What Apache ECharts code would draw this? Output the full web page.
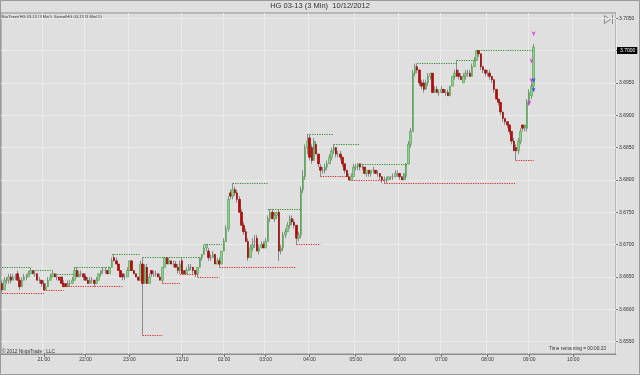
<!DOCTYPE html>
<html><head><meta charset="utf-8">
<script src="https://cdn.jsdelivr.net/npm/echarts@6/dist/echarts.min.js"></script>
<style>html,body{margin:0;padding:0;background:#dfdfdf}#c{width:640px;height:375px}</style>
</head><body><div id="c"></div>
<script>
// ---- data ----
const barSlots = 280;
const timeTickIndex = [19, 38, 58, 82, 101, 120, 140, 161, 181, 200, 221, 240, 260];
const timeTickLabels = ['21:00','22:00','23:00','12/10','02:00','03:00','04:00','05:00','06:00','07:00','08:00','09:00','10:00'];
const plotMin = 3.6531, plotMax = 3.7058;
const labelAxisMin = 3.65, labelStep = 0.005;
// [open, close, low, high]
const bars = [
[3.6640,3.6630,3.6625,3.6645],[3.6630,3.6645,3.6630,3.6650],[3.6645,3.6645,3.6640,3.6650],[3.6645,3.6650,3.6640,3.6655],[3.6650,3.6645,3.6640,3.6655],
[3.6645,3.6650,3.6645,3.6655],[3.6650,3.6650,3.6645,3.6655],[3.6655,3.6645,3.6645,3.6660],[3.6645,3.6635,3.6630,3.6650],[3.6635,3.6645,3.6635,3.6650],
[3.6645,3.6650,3.6645,3.6655],[3.6650,3.6650,3.6645,3.6655],[3.6650,3.6655,3.6650,3.6660],[3.6655,3.6660,3.6655,3.6665],[3.6660,3.6655,3.6655,3.6660],
[3.6655,3.6655,3.6650,3.6660],[3.6655,3.6645,3.6645,3.6655],[3.6645,3.6645,3.6640,3.6650],[3.6645,3.6640,3.6635,3.6645],[3.6640,3.6630,3.6630,3.6645],
[3.6630,3.6635,3.6630,3.6640],[3.6635,3.6645,3.6635,3.6650],[3.6645,3.6650,3.6645,3.6655],[3.6650,3.6655,3.6650,3.6660],[3.6655,3.6650,3.6650,3.6655],
[3.6650,3.6650,3.6645,3.6655],[3.6650,3.6645,3.6645,3.6650],[3.6650,3.6640,3.6640,3.6650],[3.6640,3.6635,3.6635,3.6645],[3.6640,3.6635,3.6635,3.6640],
[3.6635,3.6640,3.6635,3.6645],[3.6640,3.6640,3.6635,3.6645],[3.6640,3.6645,3.6640,3.6650],[3.6645,3.6660,3.6645,3.6665],[3.6660,3.6650,3.6650,3.6665],
[3.6650,3.6655,3.6650,3.6660],[3.6655,3.6655,3.6650,3.6660],[3.6655,3.6650,3.6645,3.6655],[3.6650,3.6645,3.6645,3.6655],[3.6645,3.6640,3.6640,3.6650],
[3.6640,3.6645,3.6640,3.6650],[3.6645,3.6645,3.6640,3.6650],[3.6645,3.6640,3.6635,3.6645],[3.6640,3.6645,3.6640,3.6650],[3.6645,3.6655,3.6645,3.6655],
[3.6655,3.6660,3.6650,3.6660],[3.6660,3.6660,3.6655,3.6665],[3.6660,3.6660,3.6655,3.6665],[3.6660,3.6655,3.6655,3.6660],[3.6655,3.6665,3.6655,3.6665],
[3.6665,3.6675,3.6665,3.6680],[3.6680,3.6675,3.6675,3.6685],[3.6675,3.6670,3.6670,3.6680],[3.6670,3.6660,3.6660,3.6670],[3.6660,3.6650,3.6650,3.6660],
[3.6655,3.6650,3.6645,3.6655],[3.6650,3.6650,3.6645,3.6655],[3.6650,3.6660,3.6650,3.6665],[3.6660,3.6675,3.6660,3.6675],[3.6675,3.6660,3.6660,3.6675],
[3.6660,3.6655,3.6655,3.6660],[3.6655,3.6650,3.6650,3.6655],[3.6650,3.6645,3.6645,3.6650],[3.6645,3.6670,3.6645,3.6675],[3.6670,3.6640,3.6560,3.6680],
[3.6640,3.6665,3.6640,3.6670],[3.6665,3.6640,3.6640,3.6670],[3.6640,3.6650,3.6640,3.6655],[3.6660,3.6655,3.6650,3.6660],[3.6655,3.6655,3.6650,3.6660],
[3.6655,3.6655,3.6650,3.6660],[3.6655,3.6650,3.6650,3.6655],[3.6650,3.6645,3.6645,3.6655],[3.6645,3.6665,3.6640,3.6665],[3.6665,3.6680,3.6665,3.6680],
[3.6680,3.6670,3.6670,3.6680],[3.6670,3.6675,3.6670,3.6680],[3.6675,3.6670,3.6670,3.6675],[3.6670,3.6670,3.6665,3.6675],[3.6670,3.6665,3.6665,3.6675],
[3.6665,3.6660,3.6655,3.6670],[3.6660,3.6670,3.6655,3.6675],[3.6675,3.6655,3.6655,3.6680],[3.6660,3.6655,3.6655,3.6660],[3.6655,3.6660,3.6655,3.6665],
[3.6660,3.6665,3.6660,3.6670],[3.6665,3.6665,3.6660,3.6670],[3.6665,3.6660,3.6655,3.6665],[3.6660,3.6655,3.6650,3.6660],[3.6655,3.6665,3.6650,3.6665],
[3.6665,3.6680,3.6665,3.6680],[3.6680,3.6685,3.6675,3.6685],[3.6685,3.6695,3.6685,3.6700],[3.6695,3.6700,3.6690,3.6700],[3.6690,3.6680,3.6675,3.6695],
[3.6680,3.6680,3.6675,3.6685],[3.6680,3.6685,3.6680,3.6690],[3.6685,3.6670,3.6670,3.6685],[3.6670,3.6675,3.6670,3.6680],[3.6675,3.6670,3.6665,3.6680],
[3.6670,3.6690,3.6670,3.6690],[3.6690,3.6705,3.6690,3.6710],[3.6705,3.6725,3.6705,3.6730],[3.6725,3.6770,3.6720,3.6775],[3.6780,3.6775,3.6770,3.6785],
[3.6775,3.6785,3.6770,3.6795],[3.6785,3.6780,3.6775,3.6790],[3.6780,3.6770,3.6765,3.6785],[3.6770,3.6750,3.6750,3.6775],[3.6750,3.6730,3.6730,3.6755],
[3.6730,3.6720,3.6715,3.6735],[3.6720,3.6705,3.6705,3.6725],[3.6705,3.6680,3.6675,3.6710],[3.6680,3.6695,3.6680,3.6700],[3.6695,3.6700,3.6690,3.6710],
[3.6705,3.6705,3.6695,3.6715],[3.6710,3.6690,3.6690,3.6715],[3.6690,3.6695,3.6685,3.6700],[3.6695,3.6700,3.6695,3.6705],[3.6700,3.6695,3.6695,3.6705],
[3.6695,3.6705,3.6695,3.6710],[3.6705,3.6740,3.6705,3.6745],[3.6740,3.6750,3.6735,3.6755],[3.6750,3.6740,3.6740,3.6755],[3.6740,3.6745,3.6735,3.6750],
[3.6745,3.6750,3.6740,3.6750],[3.6750,3.6690,3.6675,3.6755],[3.6690,3.6695,3.6685,3.6700],[3.6695,3.6715,3.6690,3.6720],[3.6715,3.6720,3.6710,3.6725],
[3.6720,3.6730,3.6720,3.6735],[3.6730,3.6740,3.6725,3.6745],[3.6740,3.6735,3.6730,3.6745],[3.6735,3.6730,3.6725,3.6740],[3.6730,3.6710,3.6700,3.6730],
[3.6710,3.6715,3.6705,3.6720],[3.6715,3.6785,3.6710,3.6790],[3.6785,3.6805,3.6780,3.6815],[3.6805,3.6850,3.6800,3.6855],[3.6850,3.6860,3.6840,3.6870],
[3.6865,3.6835,3.6830,3.6870],[3.6850,3.6830,3.6825,3.6855],[3.6830,3.6860,3.6830,3.6865],[3.6855,3.6840,3.6840,3.6860],[3.6840,3.6825,3.6820,3.6840],
[3.6820,3.6815,3.6805,3.6825],[3.6815,3.6815,3.6810,3.6820],[3.6815,3.6820,3.6810,3.6825],[3.6820,3.6825,3.6815,3.6830],[3.6825,3.6835,3.6825,3.6840],
[3.6835,3.6845,3.6830,3.6850],[3.6845,3.6850,3.6840,3.6855],[3.6850,3.6840,3.6835,3.6850],[3.6840,3.6840,3.6835,3.6845],[3.6840,3.6835,3.6830,3.6845],
[3.6835,3.6825,3.6820,3.6835],[3.6825,3.6815,3.6810,3.6825],[3.6815,3.6805,3.6805,3.6815],[3.6805,3.6800,3.6800,3.6810],[3.6800,3.6805,3.6800,3.6810],
[3.6805,3.6820,3.6805,3.6825],[3.6820,3.6820,3.6815,3.6825],[3.6820,3.6825,3.6815,3.6825],[3.6825,3.6820,3.6815,3.6825],[3.6820,3.6820,3.6815,3.6825],
[3.6820,3.6810,3.6810,3.6820],[3.6810,3.6815,3.6805,3.6815],[3.6815,3.6810,3.6805,3.6815],[3.6810,3.6815,3.6805,3.6815],[3.6815,3.6815,3.6810,3.6820],
[3.6815,3.6810,3.6810,3.6815],[3.6810,3.6810,3.6805,3.6815],[3.6810,3.6805,3.6800,3.6810],[3.6805,3.6800,3.6795,3.6805],[3.6800,3.6800,3.6795,3.6805],
[3.6800,3.6800,3.6795,3.6805],[3.6800,3.6805,3.6800,3.6805],[3.6805,3.6805,3.6800,3.6805],[3.6805,3.6805,3.6800,3.6810],[3.6805,3.6810,3.6805,3.6815],
[3.6810,3.6810,3.6805,3.6815],[3.6810,3.6805,3.6800,3.6810],[3.6805,3.6800,3.6800,3.6805],[3.6800,3.6810,3.6800,3.6810],[3.6805,3.6825,3.6800,3.6825],
[3.6825,3.6855,3.6825,3.6860],[3.6855,3.6875,3.6850,3.6880],[3.6875,3.6965,3.6875,3.6970],[3.6965,3.6975,3.6960,3.6980],[3.6975,3.6970,3.6965,3.6980],
[3.6970,3.6950,3.6945,3.6970],[3.6950,3.6945,3.6940,3.6955],[3.6950,3.6940,3.6935,3.6955],[3.6940,3.6950,3.6940,3.6955],[3.6950,3.6960,3.6945,3.6965],
[3.6960,3.6965,3.6955,3.6965],[3.6965,3.6935,3.6935,3.6965],[3.6935,3.6940,3.6935,3.6945],[3.6940,3.6935,3.6935,3.6945],[3.6935,3.6935,3.6930,3.6940],
[3.6935,3.6940,3.6935,3.6945],[3.6940,3.6935,3.6935,3.6940],[3.6935,3.6935,3.6930,3.6940],[3.6935,3.6930,3.6930,3.6940],[3.6930,3.6945,3.6930,3.6945],
[3.6945,3.6960,3.6945,3.6960],[3.6960,3.6965,3.6955,3.6970],[3.6970,3.6960,3.6960,3.6985],[3.6965,3.6960,3.6955,3.6970],[3.6960,3.6955,3.6955,3.6965],
[3.6950,3.6960,3.6950,3.6965],[3.6960,3.6965,3.6955,3.6970],[3.6965,3.6965,3.6960,3.6970],[3.6965,3.6960,3.6960,3.6970],[3.6960,3.6975,3.6960,3.6980],
[3.6975,3.6985,3.6975,3.6990],[3.6985,3.7000,3.6985,3.7000],[3.7000,3.6995,3.6990,3.7000],[3.6995,3.6975,3.6970,3.6995],[3.6975,3.6970,3.6965,3.6975],
[3.6970,3.6965,3.6960,3.6970],[3.6965,3.6965,3.6960,3.6970],[3.6965,3.6960,3.6955,3.6970],[3.6960,3.6955,3.6950,3.6960],[3.6955,3.6940,3.6935,3.6955],
[3.6940,3.6925,3.6925,3.6940],[3.6925,3.6920,3.6915,3.6925],[3.6920,3.6905,3.6900,3.6920],[3.6905,3.6895,3.6890,3.6905],[3.6895,3.6890,3.6885,3.6895],
[3.6890,3.6885,3.6880,3.6890],[3.6885,3.6875,3.6870,3.6885],[3.6875,3.6860,3.6855,3.6875],[3.6860,3.6845,3.6845,3.6865],[3.6850,3.6845,3.6830,3.6855],
[3.6845,3.6860,3.6840,3.6865],[3.6860,3.6875,3.6855,3.6880],[3.6885,3.6880,3.6875,3.6885],[3.6880,3.6885,3.6875,3.6885],[3.6880,3.6920,3.6875,3.6925],
[3.6920,3.6935,3.6915,3.6940],[3.6930,3.6945,3.6925,3.6950],[3.6945,3.7005,3.6940,3.7010]
];
// swing lines: [startBar, endBar, price]
const swingHighs = [[0,13,3.6665],[14,23,3.6660],[24,33,3.6655],[33,49,3.6665],[50,63,3.6685],[64,75,3.6680],[76,90,3.6680],[92,100,3.6700],[105,121,3.6795],[121,136,3.6755],[139,151,3.6870],[151,163,3.6855],[163,185,3.6825],[189,207,3.6980],[207,216,3.6985],[216,242,3.7000]];
const swingLows = [[0,19,3.6625],[19,28,3.6630],[28,55,3.6635],[64,73,3.6560],[73,81,3.6640],[81,89,3.6655],[89,99,3.6650],[99,134,3.6665],[134,145,3.6700],[145,158,3.6805],[158,174,3.6800],[174,234,3.6795],[234,242,3.6830]];
const magentaMarks = [[242,3.7022],[241,3.6980],[241,3.6950],[240,3.6915]];
const blueMarks = [[242,3.6950],[242,3.6935]];

// ---- chart ----
const FONT = 'Liberation Sans, Arial, sans-serif';
const categories = Array.from({length: barSlots}, (_, i) => String(i));
const isTick = (idx) => timeTickIndex.indexOf(idx) >= 0;
const bodies = bars.map(b => [b[0], b[1], Math.min(b[0], b[1]), Math.max(b[0], b[1])]);
const lastClose = bars[bars.length - 1][1];

const gridTop = 13, gridBottom = 21, gridLeft = 1, gridRight = 24;
const plotH = 375 - gridTop - gridBottom;
const pxPerUnit = plotH / (plotMax - plotMin);
// label grid spans the whole canvas height with the same px-per-unit scale
const labelAxisMax = plotMax + gridTop / pxPerUnit;
const labelGridBottom = gridBottom - (plotMin - labelAxisMin) * pxPerUnit;

const swingLine = (seg, color) => [
  { coord: [String(seg[0]), seg[2]], lineStyle: { color: color, width: 1.2, type: [1.2, 1.2] } },
  { coord: [String(seg[1]), seg[2]] }
];

const chart = echarts.init(document.getElementById('c'), null, { renderer: 'canvas' });
chart.setOption({
  animation: false,
  backgroundColor: '#dfdfdf',
  title: {
    text: 'HG 03-13 (3 Min)  10/12/2012', left: 'center', top: 2, padding: 0,
    textStyle: { fontSize: 7.5, fontWeight: 'normal', color: '#333', fontFamily: FONT }
  },
  grid: [
    { left: gridLeft, right: gridRight, top: gridTop, bottom: gridBottom, show: true, borderColor: '#8c8c8c', borderWidth: 1, backgroundColor: 'transparent' },
    { left: gridLeft, right: gridRight, top: 0, bottom: labelGridBottom, show: false }
  ],
  xAxis: [
    {
      type: 'category', gridIndex: 0, data: categories, boundaryGap: true,
      axisLine: { show: true, lineStyle: { color: '#8c8c8c' } },
      axisTick: { show: true, interval: (i) => isTick(i), alignWithLabel: true, length: 3, lineStyle: { color: '#777' } },
      axisLabel: { interval: (i) => isTick(i), formatter: (v, i) => timeTickLabels[timeTickIndex.indexOf(i)] || '', fontSize: 5, color: '#333', margin: 3, fontFamily: FONT },
      splitLine: { show: true, interval: (i) => isTick(i), lineStyle: { color: '#ebebeb', width: 1 } }
    },
    { type: 'category', gridIndex: 1, data: categories, show: false }
  ],
  yAxis: [
    { type: 'value', gridIndex: 0, min: plotMin, max: plotMax, position: 'right', scale: true,
      axisLine: { show: false }, axisTick: { show: false }, axisLabel: { show: false }, splitLine: { show: false } },
    { type: 'value', gridIndex: 1, min: labelAxisMin, max: labelAxisMax, interval: labelStep, position: 'right',
      axisLine: { show: false },
      axisTick: { show: true, length: 2, lineStyle: { color: '#777' } },
      axisLabel: { fontSize: 5, color: '#333', margin: 3, fontFamily: FONT, showMaxLabel: false,
        formatter: (v) => (v < plotMin || v > plotMax || Math.abs(v - lastClose) < 0.0015) ? '' : v.toFixed(4) },
      splitLine: { show: true, lineStyle: { color: '#ebebeb', width: 1 } } }
  ],
  series: [
    {
      type: 'candlestick', name: 'wicks', xAxisIndex: 0, yAxisIndex: 0, data: bars, barWidth: 1, silent: true, z: 2,
      itemStyle: { color: '#8a8a8a', color0: '#8a8a8a', borderColor: '#8a8a8a', borderColor0: '#8a8a8a', borderColorDoji: '#8a8a8a', borderWidth: 1 },
      markLine: {
        silent: true, symbol: 'none', label: { show: false },
        data: swingHighs.map(s => swingLine(s, '#2f8f2f')).concat(swingLows.map(s => swingLine(s, '#e02525')))
      }
    },
    {
      type: 'candlestick', name: 'bodies', xAxisIndex: 0, yAxisIndex: 0, data: bodies, barWidth: 2, silent: true, z: 3,
      itemStyle: { color: '#8ccf8c', color0: '#c00000', borderColor: '#4e9e4e', borderColor0: '#900000', borderColorDoji: '#8a8a8a', borderWidth: 0.6 },
      markLine: {
        silent: true, symbol: 'none', lineStyle: { color: 'rgba(0,0,0,0)', width: 1, type: 'solid' },
        label: { show: true, position: 'end', distance: 1, formatter: (p) => Number(p.value).toFixed(4),
          color: '#ffffff', backgroundColor: '#000000', fontSize: 5, padding: [1, 2, 1, 3], fontFamily: FONT },
        data: [{ yAxis: lastClose }]
      }
    },
    { type: 'scatter', xAxisIndex: 0, yAxisIndex: 0, data: magentaMarks, symbol: 'arrow', symbolSize: [3, 5], symbolRotate: 180, itemStyle: { color: '#e020e0' }, silent: true, z: 4 },
    { type: 'scatter', xAxisIndex: 0, yAxisIndex: 0, data: blueMarks, symbol: 'arrow', symbolSize: [3, 5], symbolRotate: 180, itemStyle: { color: '#2040ff' }, silent: true, z: 4 }
  ],
  graphic: [
    { type: 'rect', shape: { x: 0.5, y: 0.5, width: 639, height: 374 }, style: { fill: 'none', stroke: '#9a9a9a', lineWidth: 1 }, silent: true, z: 10 },
    { type: 'text', left: 2, top: 15, style: { text: 'BarTimer(HG 03-13 (3 Min)), Swing(HG 03-13 (3 Min),5)', fontSize: 4, fill: '#333', fontFamily: FONT }, silent: true },
    { type: 'text', left: 2, top: 349, style: { text: '\u00a9 2012 NinjaTrader, LLC', fontSize: 4.8, fill: '#333', fontFamily: FONT }, silent: true },
    { type: 'text', right: 34, top: 346.5, style: { text: 'Time remaining = 00:00:23', fontSize: 4.8, fill: '#333', fontFamily: FONT }, silent: true },
    { type: 'polygon', shape: { points: [[604.5, 15.5], [610.5, 19.5], [604.5, 23.5]] }, style: { fill: 'none', stroke: '#8a8a8a', lineWidth: 1 }, silent: true },
    { type: 'line', shape: { x1: 612.5, y1: 15, x2: 612.5, y2: 24 }, style: { stroke: '#8a8a8a', lineWidth: 1 }, silent: true }
  ]
});
</script></body></html>
